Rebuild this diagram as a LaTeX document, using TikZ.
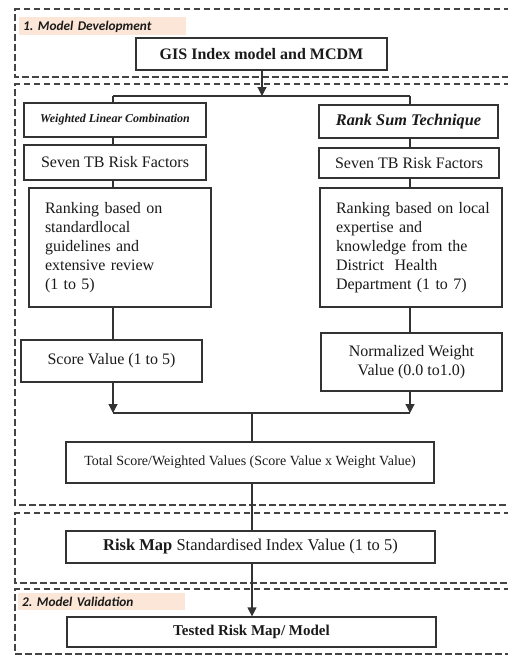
\documentclass[tikz,border=0pt]{standalone}
\usepackage{fontspec}
\setmainfont{Liberation Serif}
\newfontfamily\labfont{Carlito}
\usetikzlibrary{arrows.meta}
\definecolor{peach}{HTML}{FCE6D8}
\definecolor{boxline}{HTML}{333333}
\definecolor{dashline}{HTML}{444444}
\definecolor{txt}{HTML}{1A1A1A}
\tikzset{
  box/.style={draw=boxline, line width=1.2pt, inner sep=0pt, align=center, text=txt, font=\fontsize{16}{19}\selectfont},
  rank/.style={box, text width=150pt, align=left},
  frame/.style={draw=dashline, line width=1.3pt, dash pattern=on 6.5pt off 3.5pt},
  conn/.style={draw=boxline, line width=1.2pt},
  arr/.style={conn, -{Triangle[width=9pt,length=9pt]}},
  lab/.style={fill=peach, inner sep=0pt, anchor=north west, text=txt, font=\labfont\fontsize{13.3}{15}\selectfont\bfseries\itshape\frenchspacing, align=left, text depth=0pt}
}
\begin{document}
\begin{tikzpicture}[x=1pt,y=-1pt]
\useasboundingbox (0,0) rectangle (508,656);
\fill[white] (0,0) rectangle (508,656);
% dashed frames
\draw[frame] (520,9) -- (15,9) -- (15,77) -- (520,77);
\draw[frame] (520,84) -- (15,84) -- (15,505) -- (520,505);
\draw[frame] (520,513) -- (15,513) -- (15,583) -- (520,583);
\draw[frame] (520,589) -- (15,589) -- (15,654) -- (520,654);
% labels
\node[lab, minimum width=163pt, minimum height=18pt, text width=159pt, inner xsep=4pt] (L1) at (19,17) {1. Model Development};
\node[lab, minimum width=163pt, minimum height=17pt, text width=159pt, inner xsep=4pt] (L2) at (18,593) {2. Model Validation};
% boxes
\node[box, minimum width=251pt, minimum height=32pt, font=\fontsize{16}{18}\selectfont\bfseries] (gis) at (261.5,54) {GIS Index model and MCDM};
\node[box, minimum width=182pt, minimum height=34pt, font=\fontsize{12}{14}\selectfont\bfseries\itshape] (wlc) at (115,120) {Weighted Linear Combination};
\node[box, minimum width=182pt, minimum height=35pt] (s7l) at (115,162.5) {Seven TB Risk Factors};
\node[rank, minimum width=182pt, minimum height=119pt] (rkl) at (120,247.5) {\mbox{Ranking based on}\\\mbox{standardlocal}\\\mbox{guidelines and}\\\mbox{extensive review}\\(1 to 5)};
\node[box, minimum width=181pt, minimum height=42pt] (score) at (111.5,361) {Score Value (1 to 5)};
\node[box, minimum width=179pt, minimum height=33pt, font=\fontsize{16.3}{18}\selectfont\bfseries\itshape] (rst) at (408.5,121.5) {Rank Sum Technique};
\node[box, minimum width=180pt, minimum height=30pt] (s7r) at (409,163) {Seven TB Risk Factors};
\node[rank, minimum width=182pt, minimum height=119pt] (rkr) at (411,247.5) {\mbox{Ranking based on local}\\\mbox{expertise and}\\\mbox{knowledge from the}\\\mbox{District\ \ Health}\\\mbox{Department (1 to 7)}};
\node[box, minimum width=181pt, minimum height=58pt] (norm) at (411.5,362) {Normalized Weight\\Value (0.0 to1.0)};
\node[box, minimum width=368pt, minimum height=41pt, font=\fontsize{14}{16}\selectfont] (total) at (250,462.5) {Total Score/Weighted Values (Score Value x Weight Value)};
\node[box, minimum width=369pt, minimum height=32pt, font=\fontsize{16.5}{19}\selectfont] (risk) at (250.5,547) {\textbf{Risk Map} Standardised Index Value (1 to 5)};
\node[box, minimum width=369pt, minimum height=30pt, font=\fontsize{15}{17}\selectfont\bfseries] (tested) at (251.5,632) {Tested Risk Map/ Model};
% junctions
\coordinate (jt) at (262,96);
\coordinate (jtl) at (113,96);
\coordinate (jtr) at (410,96);
\coordinate (jbl) at (113,413);
\coordinate (jbr) at (410,413);
\coordinate (jbm) at (252,413);
% connectors
\draw[arr] (gis.south -| jt) -- (jt);
\draw[conn] (jtl) -- (jtr);
\draw[conn] (jtl) -- (wlc.north -| jtl);
\draw[conn] (jtr) -- (rst.north -| jtr);
\draw[conn] (wlc.south -| jtl) -- (s7l.north -| jtl);
\draw[conn] (s7l.south -| jtl) -- (rkl.north -| jtl);
\draw[conn] (rkl.south -| jtl) -- (score.north -| jtl);
\draw[arr] (score.south -| jbl) -- (jbl);
\draw[conn] (rst.south -| jtr) -- (s7r.north -| jtr);
\draw[conn] (s7r.south -| jtr) -- (rkr.north -| jtr);
\draw[conn] (rkr.south -| jtr) -- (norm.north -| jtr);
\draw[arr] (norm.south -| jbr) -- (jbr);
\draw[conn] (jbl) -- (jbr);
\draw[conn] (jbm) -- (total.north -| jbm);
\draw[conn] (total.south -| jbm) -- (risk.north -| jbm);
\draw[arr] (risk.south -| jbm) -- (tested.north -| jbm);
\end{tikzpicture}
\end{document}
